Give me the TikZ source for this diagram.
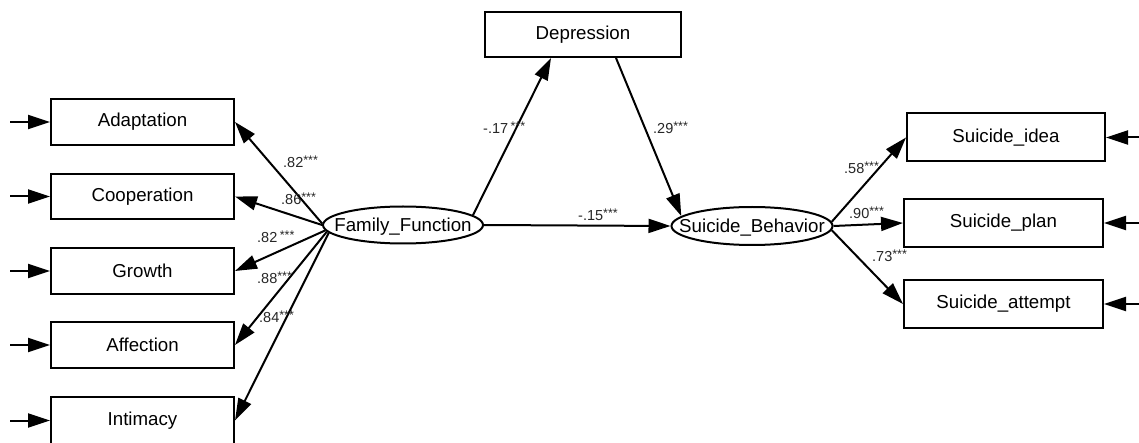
\documentclass[tikz,border=0pt]{standalone}
\usepackage{fontspec}
\setmainfont{Liberation Sans}
\usetikzlibrary{arrows.meta,shapes.geometric}
\newcommand\cfl[1]{{\fontsize{14.5}{14.5}\selectfont #1}\raisebox{3pt}{\fontsize{12.5}{12.5}\selectfont ***}}
\newcommand\lattext[1]{\makebox[0pt]{\raisebox{-6.6pt}[0pt][0pt]{#1}}}
\begin{document}
\begin{tikzpicture}[x=1pt,y=-1pt,
  every node/.style={font=\fontsize{18.7}{18.7}\selectfont},
  obsbox/.style={draw, line width=2pt, minimum height=46pt, inner sep=0pt},
  latent/.style={draw, ellipse, line width=2pt, inner sep=0pt},
  path/.style={line width=2pt, -{Triangle[length=22pt,width=14pt]}},
  coef/.style={anchor=west, inner sep=0pt, text=black!85}]
\useasboundingbox (0,0) rectangle (1139,443);
% left indicators
\node[obsbox, minimum width=183pt] (adapt) at (142.5,122) {Adaptation};
\node[obsbox, minimum width=183pt, minimum height=45pt] (coop) at (142.5,196.5) {Cooperation};
\node[obsbox, minimum width=183pt] (grow) at (142.5,271) {Growth};
\node[obsbox, minimum width=183pt] (affe) at (142.5,345) {Affection};
\node[obsbox, minimum width=183pt, minimum height=47pt] (inti) at (142.5,420.5) {Intimacy};
% mediator
\node[obsbox, minimum width=196pt, minimum height=45pt] (dep) at (583,34.5) {Depression};
% latents
\node[latent, minimum width=160pt, minimum height=37pt] (ff) at (403,225) {\lattext{Family\_Function}};
\node[latent, minimum width=161pt, minimum height=38pt] (sb) at (752,226) {\lattext{Suicide\_Behavior}};
% right indicators
\node[obsbox, minimum width=198pt, minimum height=48pt] (idea) at (1006,137.5) {Suicide\_idea};
\node[obsbox, minimum width=199pt, minimum height=48pt] (plan) at (1003.5,223) {Suicide\_plan};
\node[obsbox, minimum width=199pt, minimum height=48pt] (att) at (1003.5,304) {Suicide\_attempt};
% error input coordinates
\coordinate (ea) at (10,122);
\coordinate (ec) at (10,196.5);
\coordinate (eg) at (10,271);
\coordinate (ef) at (10,345);
\coordinate (ei) at (10,420.5);
\coordinate (ri) at (1139,137.5);
\coordinate (rp) at (1139,223);
\coordinate (rt) at (1139,304);
\draw[path] (ea) -- (adapt.west);
\draw[path] (ec) -- (coop.west);
\draw[path] (eg) -- (grow.west);
\draw[path] (ef) -- (affe.west);
\draw[path] (ei) -- (inti.west);
\draw[path] (ri) -- (idea.east);
\draw[path] (rp) -- (plan.east);
\draw[path] (rt) -- (att.east);
% loadings
\draw[path] (ff.179) -- (adapt.east);
\draw[path] (ff.180) -- (coop.east);
\draw[path] (ff.184) -- (grow.east);
\draw[path] (ff.185) -- (affe.east);
\draw[path] (ff.186) -- (inti.east);
\draw[path] (sb.3) -- (idea.west);
\draw[path] (sb.east) -- (plan.west);
\draw[path] (sb.357) -- (att.west);
% structural paths
\draw[path] (ff.8) -- ([xshift=-32pt]dep.south);
\draw[path] ([xshift=33pt]dep.south) -- (sb.172);
\draw[path] (ff.east) -- (sb.west);
% coefficients
\node[coef] (c1) at (283,162) {\cfl{.82}};
\node[coef] (c2) at (281,199) {\cfl{.86}};
\node[coef] (c3) at (257,237) {\cfl{.82\,}};
\node[coef] (c4) at (257,278) {\cfl{.88}};
\node[coef] (c5) at (259,317) {\cfl{.84}};
\node[coef] (c6) at (483,128) {\cfl{-.17\,}};
\node[coef] (c7) at (653,128) {\cfl{.29}};
\node[coef] (c8) at (578,215) {\cfl{-.15}};
\node[coef] (c9) at (844,168) {\cfl{.58}};
\node[coef] (c10) at (849,213) {\cfl{.90}};
\node[coef] (c11) at (872,256) {\cfl{.73}};
\end{tikzpicture}
\end{document}
